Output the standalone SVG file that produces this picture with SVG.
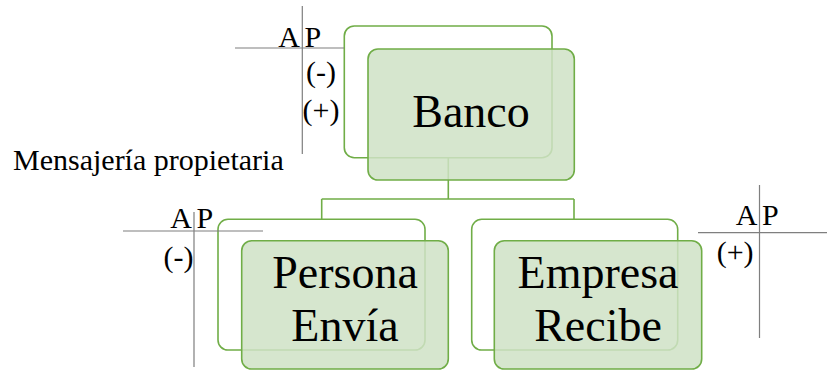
<svg xmlns="http://www.w3.org/2000/svg" width="827" height="370" viewBox="0 0 827 370">
  <style>
    .back { fill: #ffffff; fill-opacity: 0.9; stroke: #70ad47; stroke-width: 1.6; }
    .front { fill: #cfe2c6; fill-opacity: 0.85; stroke: #70ad47; stroke-width: 1.6; }
    .conn { fill: none; stroke: #70ad47; stroke-width: 1.6; }
    .axis { stroke: #7f7f7f; stroke-width: 1.2; fill: none; }
    .lbl { font-family: "Liberation Serif", "Times New Roman", serif; font-size: 46px; fill: #000; text-anchor: middle; }
    .note { font-family: "Liberation Serif", "Times New Roman", serif; font-size: 30px; fill: #000; }
  </style>

  <rect width="827" height="370" fill="#ffffff"/>

  <!-- hierarchy connectors -->
  <g id="connectors">
    <path class="conn" d="M448.3,158 V199 M321.7,199 H574 M321.7,199 V219.3 M574,199 V219.3"/>
  </g>

  <g id="banco">
    <rect class="back" x="344.3" y="26" width="207.7" height="131.7" rx="10"/>
    <rect class="front" x="368" y="49" width="206.3" height="131" rx="10"/>
    <text class="lbl" x="471" y="127">Banco</text>
  </g>

  <g id="persona">
    <rect class="back" x="218" y="219.3" width="207" height="130.7" rx="10"/>
    <rect class="front" x="241.7" y="240.7" width="206.6" height="128.3" rx="10"/>
    <text class="lbl" x="345" y="288">Persona</text>
    <text class="lbl" x="345" y="341">Envía</text>
  </g>

  <g id="empresa">
    <rect class="back" x="471.7" y="219.3" width="206" height="130.7" rx="10"/>
    <rect class="front" x="494.3" y="240.7" width="207.4" height="128.3" rx="10"/>
    <text class="lbl" x="598" y="288">Empresa</text>
    <text class="lbl" x="598" y="341">Recibe</text>
  </g>

  <!-- T-account crosses -->
  <g id="cuenta-banco">
    <path class="axis" d="M235,48 H344 M302.3,6 V154"/>
    <text class="note" x="300" y="47" text-anchor="end">A</text>
    <text class="note" x="304.5" y="47">P</text>
    <text class="note" x="306" y="82">(-)</text>
    <text class="note" x="302.5" y="120">(+)</text>
  </g>

  <g id="cuenta-persona">
    <path class="axis" d="M123,231 H263 M194,212 V367"/>
    <text class="note" x="192" y="228.3" text-anchor="end">A</text>
    <text class="note" x="196.5" y="228.3">P</text>
    <text class="note" x="163.5" y="267">(-)</text>
  </g>

  <g id="cuenta-empresa">
    <path class="axis" d="M698,232.7 H827 M759.5,185 V338"/>
    <text class="note" x="757.5" y="225" text-anchor="end">A</text>
    <text class="note" x="762" y="225">P</text>
    <text class="note" x="716.7" y="262">(+)</text>
  </g>

  <g id="titulo">
    <text class="note" x="13" y="170" font-size="31">Mensajería propietaria</text>
  </g>
</svg>
